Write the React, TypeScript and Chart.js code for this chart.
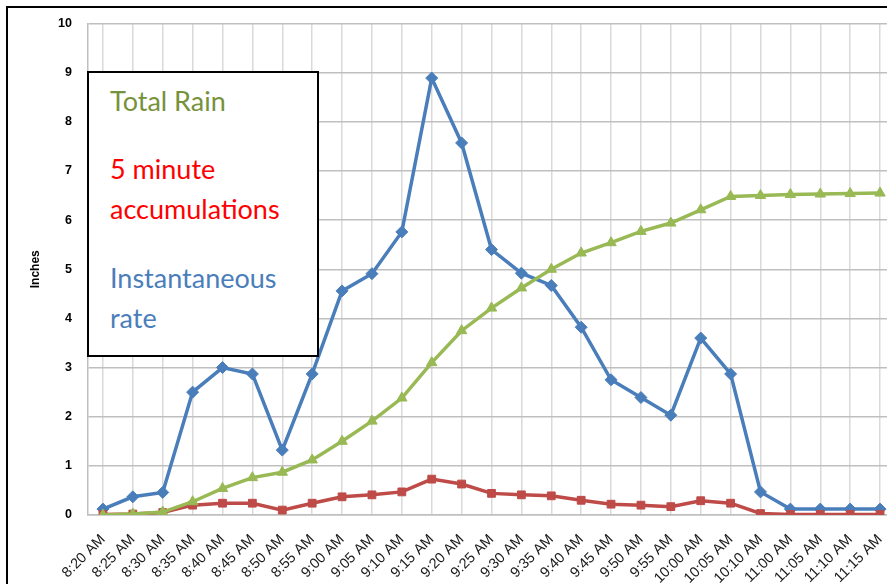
import React, { useEffect, useRef } from "react";
import { Chart, registerables } from "chart.js";

Chart.register(...registerables);

const timeLabels = [
  "8:20 AM", "8:25 AM", "8:30 AM", "8:35 AM", "8:40 AM", "8:45 AM", "8:50 AM",
  "8:55 AM", "9:00 AM", "9:05 AM", "9:10 AM", "9:15 AM", "9:20 AM", "9:25 AM",
  "9:30 AM", "9:35 AM", "9:40 AM", "9:45 AM", "9:50 AM", "9:55 AM", "10:00 AM",
  "10:05 AM", "10:10 AM", "11:00 AM", "11:05 AM", "11:10 AM", "11:15 AM",
];

const instantaneousRate = [
  0.12, 0.37, 0.46, 2.5, 3.0, 2.87, 1.32, 2.87, 4.56, 4.91, 5.76, 8.89, 7.57, 5.4,
  4.92, 4.67, 3.82, 2.75, 2.39, 2.03, 3.6, 2.87, 0.47, 0.12, 0.12, 0.12, 0.12,
];

const fiveMinuteAccum = [
  0.01, 0.02, 0.05, 0.2, 0.24, 0.24, 0.1, 0.24, 0.37, 0.41, 0.47, 0.73, 0.63, 0.44,
  0.41, 0.39, 0.3, 0.22, 0.2, 0.17, 0.29, 0.24, 0.03, 0.01, 0.01, 0.01, 0.01,
];

const totalRain = [
  0, 0.02, 0.06, 0.27, 0.54, 0.76, 0.87, 1.12, 1.5, 1.91, 2.38, 3.1, 3.75, 4.21,
  4.62, 5.0, 5.33, 5.54, 5.77, 5.94, 6.21, 6.48, 6.5, 6.52, 6.53, 6.54, 6.55,
];

const yMin = 0;
const yMax = 10;
const yStep = 1;

const BLUE = "#4A7EBB";
const RED = "#BE4B48";
const GREEN = "#98B954";

const CANVAS_W = 902;

export default function App() {
  const canvasRef = useRef<HTMLCanvasElement | null>(null);

  useEffect(() => {
    const canvas = canvasRef.current;
    if (!canvas) return;
    const chart = new Chart(canvas, {
      type: "line",
      data: {
        labels: timeLabels,
        datasets: [
          {
            label: "Instantaneous rate",
            data: instantaneousRate,
            borderColor: BLUE,
            backgroundColor: BLUE,
            borderWidth: 3.5,
            pointStyle: "rectRot",
            pointRadius: 6,
            pointBorderWidth: 1,
            tension: 0,
            order: 2,
          },
          {
            label: "5 minute accumulations",
            data: fiveMinuteAccum,
            borderColor: RED,
            backgroundColor: RED,
            borderWidth: 3.5,
            pointStyle: "rect",
            pointRadius: 5.5,
            pointBorderWidth: 1,
            tension: 0,
            order: 1,
          },
          {
            label: "Total Rain",
            data: totalRain,
            borderColor: GREEN,
            backgroundColor: GREEN,
            borderWidth: 3.5,
            pointStyle: "triangle",
            pointRadius: 6,
            pointBorderWidth: 1,
            tension: 0,
            order: 0,
          },
        ],
      },
      options: {
        animation: false,
        responsive: false,
        maintainAspectRatio: false,
        layout: { padding: { left: 0, right: 0, top: 22, bottom: 0 } },
        plugins: {
          legend: { display: false },
          tooltip: { enabled: false },
        },
        scales: {
          x: {
            type: "category",
            offset: true,
            grid: {
              offset: false,
              color: "#D9D9D9",
              lineWidth: 1.5,
              drawTicks: false,
            },
            border: { display: true, color: "#BFBFBF", width: 1.5 },
            ticks: {
              autoSkip: false,
              maxRotation: 45,
              minRotation: 45,
              padding: 16,
              color: "#1a1a1a",
              font: { family: "'Liberation Sans', Arial, sans-serif", size: 14.5 },
            },
            afterFit: (s: any) => {
              s.height = 584 - 515;
              s.paddingLeft = 0;
              s.paddingRight = 0;
            },
          },
          y: {
            min: yMin,
            max: yMax,
            ticks: {
              stepSize: yStep,
              padding: 16,
              color: "#000",
              font: { family: "'Liberation Sans', Arial, sans-serif", size: 12.5, weight: "bold" },
            },
            grid: { color: "#BFBFBF", lineWidth: 1.5, drawTicks: false },
            border: { display: true, color: "#BFBFBF", width: 1.5 },
            title: {
              display: true,
              text: "Inches",
              color: "#000",
              padding: { top: 28, bottom: 0 },
              font: { family: "'Liberation Sans', Arial, sans-serif", size: 12, weight: "bold" },
            },
            afterFit: (s: any) => {
              s.width = 88;
            },
          },
        },
      },
    });
    return () => chart.destroy();
  }, []);

  const textFont = "Lato, 'Open Sans', sans-serif";
  const fs = 27;
  const lineStyle = (baseline: number, color: string): React.CSSProperties => ({
    position: "absolute",
    left: 110,
    top: baseline - 0.887 * fs,
    fontFamily: textFont,
    fontSize: fs,
    lineHeight: `${fs}px`,
    color,
    whiteSpace: "nowrap",
  });

  return (
    <div
      style={{
        position: "fixed",
        left: 0,
        top: 0,
        width: 887,
        height: 584,
        overflow: "hidden",
        background: "#fff",
      }}
    >
      <div style={{ position: "absolute", left: 0, top: 0, width: CANVAS_W, height: 584 }}>
        <canvas ref={canvasRef} width={CANVAS_W} height={584} style={{ display: "block" }} />
      </div>
      <div
        style={{
          position: "absolute",
          left: 6,
          top: 6,
          width: 2000,
          height: 2000,
          border: "2px solid #000",
          pointerEvents: "none",
        }}
      />
      <div
        style={{
          position: "absolute",
          left: 87,
          top: 71,
          width: 232,
          height: 286,
          boxSizing: "border-box",
          border: "2px solid #000",
          background: "#fff",
        }}
      />
      <div style={lineStyle(110.7, "#76923C")}>Total Rain</div>
      <div style={lineStyle(179, "#FF0000")}>5 minute</div>
      <div style={lineStyle(219, "#FF0000")}>accumulations</div>
      <div style={lineStyle(288, "#4A7EBB")}>Instantaneous</div>
      <div style={lineStyle(328, "#4A7EBB")}>rate</div>
    </div>
  );
}
